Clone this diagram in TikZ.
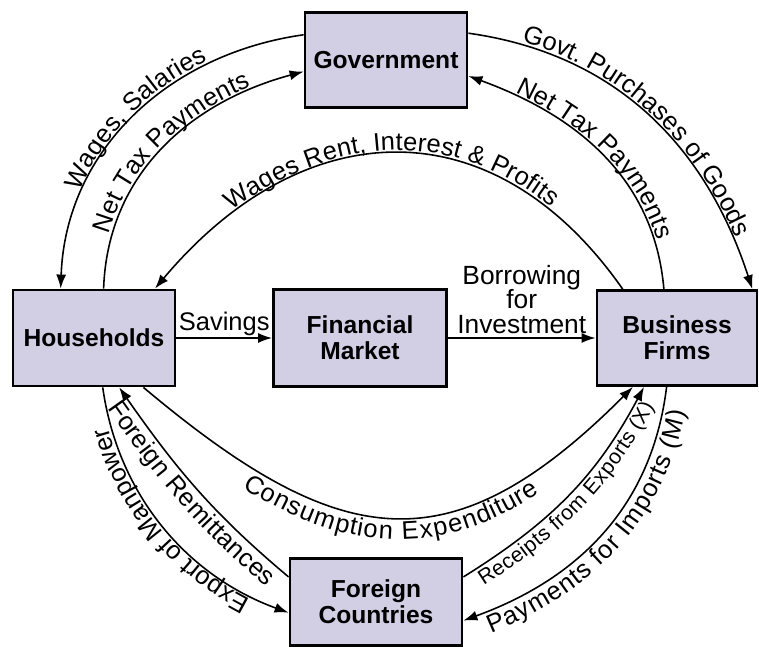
\documentclass[tikz,border=0pt]{standalone}
\usepackage{fontspec}
\setmainfont{Liberation Sans}
\usetikzlibrary{arrows.meta,decorations.text}

\definecolor{boxfill}{RGB}{210,207,229}
\newcommand{\lblfont}{\fontsize{14.5}{16}\selectfont}
\newcommand{\smallfont}{\fontsize{12}{13}\selectfont}

\tikzset{
  box/.style={draw, line width=1.6pt, fill=boxfill, align=center,
    font=\fontsize{14}{15}\selectfont\bfseries, inner sep=2pt},
  flow/.style={line width=0.9pt, -{Latex[length=2.8mm,width=2mm]}},
  along/.style={postaction={decorate, decoration={text along path,
    text align=center, raise=1.7pt, text={|\lblfont|#1}}}},
  under/.style={postaction={decorate, decoration={text along path,
    text align=center, raise=-12.5pt, text={|\lblfont|#1}}}},
  undersmall/.style={postaction={decorate, decoration={text along path,
    text align=center, raise=-10.5pt, text={|\smallfont|#1}}}},
}

\begin{document}
\begin{tikzpicture}[x=0.2mm,y=0.2mm]
	\useasboundingbox (0,0) rectangle (759,651);
	% sectors
	\node[box, minimum width=32.4mm, minimum height=19mm] (gov) at (386,591) {Government};
	\node[box, minimum width=32.4mm, minimum height=19.2mm] (hh) at (94,313) {Households};
	\node[box, minimum width=34.6mm, minimum height=19.4mm] (fin) at (360,313) {Financial\\Market};
	\node[box, minimum width=32mm, minimum height=19mm] (firm) at (677,313) {Business\\Firms};
	\node[box, minimum width=34.4mm, minimum height=17.4mm] (for) at (376,49) {Foreign\\Countries};
	% government flows
	\draw[flow] (gov.163) to[out=188,in=88] (hh.124);
	\path[along={Wages, Salaries}] (hh.124) to[out=88,in=188] (gov.163);
	\draw[flow, along={Net Tax Payments}] (hh.79) to[out=88,in=195] (gov.188);
	\draw[flow, along={Govt. Purchases of Goods}] (gov.18) to[out=-8,in=108] (firm.33);
	\draw[flow] (firm.105) to[out=95,in=-20] (gov.-11);
	\path[along={Net Tax Payments}] (gov.-11) to[out=-20,in=95] (firm.105);
	% factor payments
	\draw[flow] (firm.138) to[out=125,in=50,looseness=1.25] (hh.39);
	\path[along={Wages Rent, Interest {\&} Profits}] (hh.39) to[out=50,in=125,looseness=1.25] (firm.138);
	% financial market
	\draw[flow] (hh) -- node[above, inner sep=1pt, font=\lblfont] {Savings} (fin);
	\draw[flow] (fin) -- node[above, inner sep=2pt, align=center, font=\fontsize{15}{14}\selectfont] {Borrowing\\for\\Investment} (firm);
	% spending
	\draw[flow, under={Consumption Expenditure}] (hh.-45) to[out=-40,in=225,looseness=1.35] (firm.-132);
	% foreign sector
	\draw[flow] (for.164) to[out=140,in=-55] (hh.-63);
	\path[under={Foreign Remittances}] (hh.-63) to[out=-55,in=140] (for.164);
	\draw[flow] (hh.-80) to[out=-82,in=160,looseness=0.95] (for.187);
	\path[along={Export of Manpower}] (for.187) to[out=160,in=-82,looseness=0.95] (hh.-80);
	\draw[flow, undersmall={Receipts from Exports (X)}] (for.16) to[out=32,in=-118] (firm.-124);
	\draw[flow] (firm.-102) to[out=-97,in=20] (for.-12);
	\path[under={Payments for Imports (M)}] (for.-12) to[out=20,in=-97] (firm.-102);
\end{tikzpicture}
\end{document}
